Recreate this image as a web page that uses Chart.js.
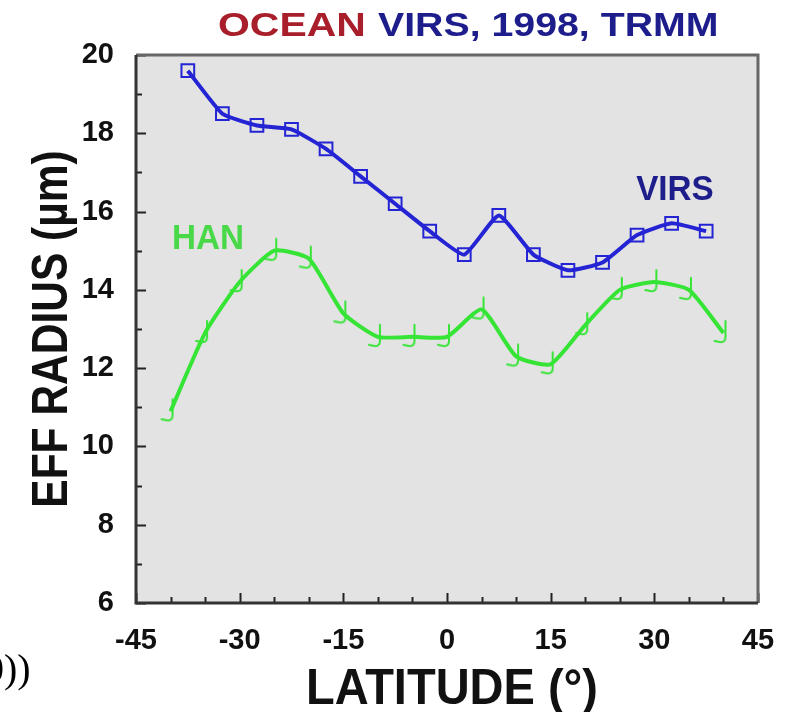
<!DOCTYPE html>
<html>
<head>
<meta charset="utf-8">
<title>Ocean VIRS 1998 TRMM</title>
<script src="https://cdn.jsdelivr.net/npm/chart.js@4.4.1/dist/chart.umd.min.js"></script>
<style>
  html, body { margin: 0; padding: 0; background: #fff; }
  #wrap { width: 796px; height: 712px; }
</style>
</head>
<body>
<div id="wrap"><canvas id="eff-radius" width="796" height="712"></canvas></div>
<script>
// latitude (deg) and effective radius (um)
const virsLat = [-37.5, -32.5, -27.5, -22.5, -17.5, -12.5, -7.5, -2.5, 2.5, 7.5, 12.5, 17.5, 22.5, 27.5, 32.5, 37.5]
const virsRadius = [19.6, 18.5, 18.2, 18.1, 17.6, 16.9, 16.2, 15.5, 14.9, 15.9, 14.9, 14.5, 14.7, 15.4, 15.7, 15.5]

const hanLat = [-40, -35, -30, -25, -20, -15, -10, -5, 0, 5, 10, 15, 20, 25, 30, 35, 40]
const hanRadius = [10.9, 12.9, 14.2, 15.0, 14.8, 13.4, 12.8, 12.8, 12.8, 13.5, 12.3, 12.1, 13.1, 14.0, 14.2, 14.0, 12.9]

const xTicks = [-45, -30, -15, 0, 15, 30, 45]
const yTicks = [6, 8, 10, 12, 14, 16, 18, 20]

const BLUE = '#2424d4'
const GREEN = '#36e436'
const NAVY = '#1d1d8c'
const DARKRED = '#a81e2b'
const SANS = '"Liberation Sans", Arial, sans-serif'

// the little hook drawn at every HAN point
function hookMarker(color) {
  const c = document.createElement('canvas')
  c.width = 24
  c.height = 30
  const g = c.getContext('2d')
  g.strokeStyle = color
  g.lineWidth = 2
  g.lineCap = 'round'
  g.beginPath()
  g.moveTo(14, 3)
  g.lineTo(14, 19)
  g.quadraticCurveTo(14, 25, 8, 24)
  g.lineTo(3, 23)
  g.stroke()
  return c
}

// text scaled horizontally to match the odd proportions of the figure
function squeezed(ctx, text, x, y, sx, align) {
  ctx.save()
  ctx.translate(x, y)
  ctx.scale(sx, 1)
  ctx.textAlign = align || 'left'
  ctx.fillText(text, 0, 0)
  ctx.restore()
}

const framePlugin = {
  id: 'frame',
  beforeDraw(chart) {
    const { ctx, chartArea: a } = chart
    ctx.save()
    ctx.fillStyle = '#e3e3e3'
    ctx.fillRect(a.left, a.top, a.right - a.left, a.bottom - a.top)
    ctx.restore()
  },
  afterDraw(chart) {
    const { ctx, chartArea: a, scales } = chart
    const x = scales.x, y = scales.y
    ctx.save()
    // inward ticks
    ctx.strokeStyle = '#222'
    ctx.lineWidth = 2
    for (let v = 6; v <= 20; v++) {
      const py = Math.round(y.getPixelForValue(v)) + 0.5
      const len = v % 2 === 0 ? 10 : 6
      ctx.beginPath(); ctx.moveTo(a.left, py); ctx.lineTo(a.left + len, py); ctx.stroke()
    }
    for (let v = -45; v <= 45; v += 5) {
      const px = Math.round(x.getPixelForValue(v)) + 0.5
      const len = v % 15 === 0 ? 10 : 6
      ctx.beginPath(); ctx.moveTo(px, a.bottom); ctx.lineTo(px, a.bottom - len); ctx.stroke()
    }
    // frame
    ctx.lineWidth = 3
    ctx.strokeStyle = '#666'
    ctx.beginPath(); ctx.moveTo(a.left, a.top); ctx.lineTo(a.right, a.top); ctx.lineTo(a.right, a.bottom); ctx.stroke()
    ctx.strokeStyle = '#333'
    ctx.beginPath(); ctx.moveTo(a.left, a.top); ctx.lineTo(a.left, a.bottom); ctx.lineTo(a.right, a.bottom); ctx.stroke()

    // title in two colours
    ctx.font = 'bold 33px ' + SANS
    ctx.textBaseline = 'alphabetic'
    ctx.fillStyle = DARKRED
    squeezed(ctx, 'OCEAN', 218, 36, 1.24)
    ctx.fillStyle = NAVY
    squeezed(ctx, 'VIRS, 1998, TRMM', 378, 36, 1.19)

    // series labels inside the plot
    ctx.font = 'bold 35px ' + SANS
    ctx.fillStyle = NAVY
    squeezed(ctx, 'VIRS', x.getPixelForValue(38.6), y.getPixelForValue(16.3), 0.95, 'right')
    ctx.fillStyle = '#48d848'
    squeezed(ctx, 'HAN', x.getPixelForValue(-39.8), y.getPixelForValue(15.05), 0.95, 'left')

    // axis titles
    ctx.fillStyle = '#111'
    ctx.font = 'bold 50px ' + SANS
    ctx.save()
    ctx.translate(67, (a.top + a.bottom) / 2)
    ctx.rotate(-Math.PI / 2)
    squeezed(ctx, 'EFF RADIUS (\u00b5m)', 0, 0, 0.85, 'center')
    ctx.restore()
    squeezed(ctx, 'LATITUDE (\u00b0)', 452, 704, 0.94, 'center')

    // clipped caption fragment at the bottom left
    ctx.font = '40px "Liberation Serif", "Times New Roman", serif'
    ctx.fillStyle = '#000'
    ctx.textAlign = 'left'
    ctx.fillText('0))', -16, 682)
    ctx.restore()
  }
}

new Chart('eff-radius', {
  type: 'line',
  data: {
    datasets: [
      {
        label: 'VIRS',
        data: virsLat.map((lat, i) => ({ x: lat, y: virsRadius[i] })),
        borderColor: BLUE,
        borderWidth: 4,
        pointStyle: 'rect',
        pointRadius: 9,
        pointBorderWidth: 2,
        pointBorderColor: BLUE,
        pointBackgroundColor: 'rgba(0,0,0,0)',
        tension: 0.15
      },
      {
        label: 'HAN',
        data: hanLat.map((lat, i) => ({ x: lat, y: hanRadius[i] })),
        borderColor: GREEN,
        borderWidth: 4,
        pointStyle: hookMarker(GREEN),
        pointRadius: 9,
        tension: 0.18
      }
    ]
  },
  options: {
    responsive: false,
    animation: false,
    devicePixelRatio: 1,
    layout: { padding: { top: 55, right: 38, left: 0, bottom: 0 } },
    plugins: {
      legend: { display: false },
      tooltip: { enabled: false }
    },
    scales: {
      x: {
        type: 'linear',
        min: -45,
        max: 45,
        afterBuildTicks: s => { s.ticks = xTicks.map(v => ({ value: v })) },
        afterFit: s => { s.height = 109 },
        grid: { display: false },
        border: { display: false },
        ticks: {
          color: '#111',
          padding: 13,
          maxRotation: 0,
          font: { family: SANS, size: 29, weight: 'bold' }
        }
      },
      y: {
        min: 6,
        max: 20,
        afterBuildTicks: s => { s.ticks = yTicks.map(v => ({ value: v })) },
        afterFit: s => { s.width = 136 },
        grid: { display: false },
        border: { display: false },
        ticks: {
          color: '#111',
          padding: 14,
          font: { family: SANS, size: 29, weight: 'bold' }
        }
      }
    }
  },
  plugins: [framePlugin]
})
</script>
</body>
</html>
